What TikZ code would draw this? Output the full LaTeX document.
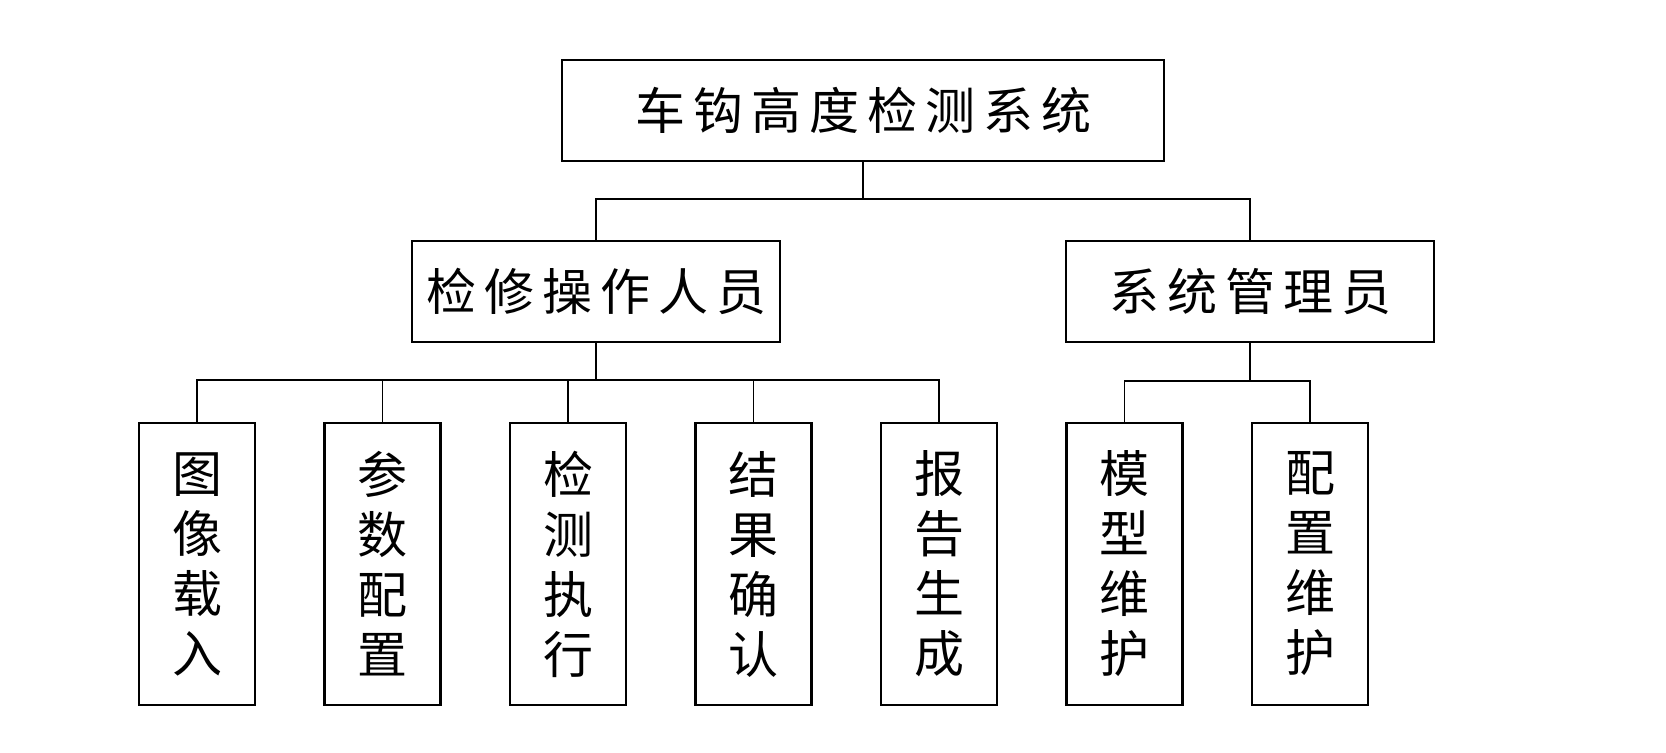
\documentclass[tikz,border=0pt]{standalone}
\usepackage{fontspec}
\newfontfamily\cjkfont{Noto Sans CJK SC}
\newcommand\kjsp{\hspace{4pt}}
\begin{document}
\begin{tikzpicture}[x=0.5pt,y=-0.5pt,
  box/.style={draw, line width=1.25pt, inner sep=0pt, align=center,
    font=\cjkfont\fontsize{25pt}{30pt}\selectfont},
  leaf/.style={box, minimum width=58pt, minimum height=141pt},
  mid/.style={box, minimum width=184pt, minimum height=50.5pt},
  conn/.style={line width=0.75pt}]
\useasboundingbox[fill=white] (0,0) rectangle (1666,752);
\node[box, minimum width=301pt, minimum height=50.5pt] (sys) at (863,110.5)
  {车\kjsp 钩\kjsp 高\kjsp 度\kjsp 检\kjsp 测\kjsp 系\kjsp 统};
\node[mid] (op) at (596,291.5) {检\kjsp 修\kjsp 操\kjsp 作\kjsp 人\kjsp 员};
\node[mid] (adm) at (1250,291.5) {系\kjsp 统\kjsp 管\kjsp 理\kjsp 员};
\node[leaf] (l1) at (197,564) {图\\像\\载\\入};
\node[leaf] (l2) at (382.5,564) {参\\数\\配\\置};
\node[leaf] (l3) at (568,564) {检\\测\\执\\行};
\node[leaf] (l4) at (753.5,564) {结\\果\\确\\认};
\node[leaf] (l5) at (939,564) {报\\告\\生\\成};
\node[leaf] (l6) at (1124.5,564) {模\\型\\维\\护};
\node[leaf] (l7) at (1310,564) {配\\置\\维\\护};
\coordinate (tb) at (863,199);
\coordinate (pb) at (596,380);
\coordinate (ab) at (1250,381);
\draw[conn] (sys.south) -- (tb);
\draw[conn] (tb) -| (op.north);
\draw[conn] (tb) -| (adm.north);
\draw[conn] (op.south) -- (pb);
\foreach \n in {l1,l2,l3,l4,l5} \draw[conn] (pb) -| (\n.north);
\draw[conn] (adm.south) -- (ab);
\foreach \n in {l6,l7} \draw[conn] (ab) -| (\n.north);
\end{tikzpicture}
\end{document}
